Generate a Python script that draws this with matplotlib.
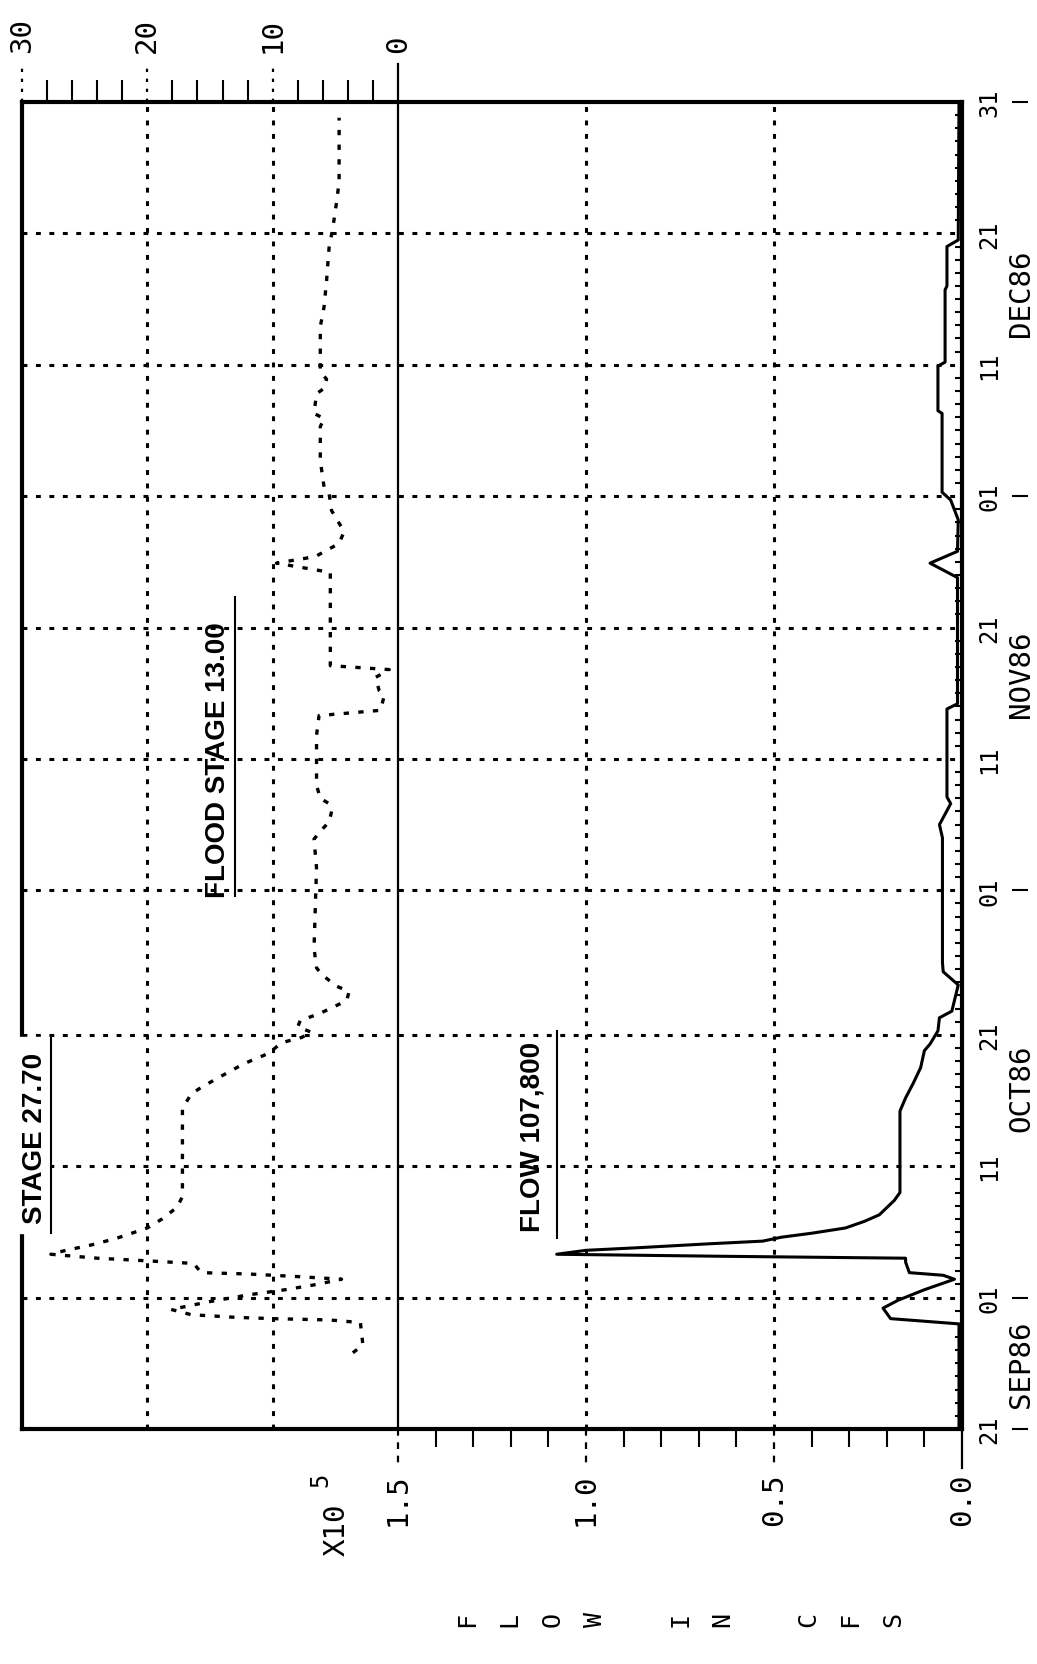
import matplotlib.pyplot as plt
from matplotlib.patches import Rectangle

# days counted from 21 SEP 86 (day 0) to 31 DEC 86 (day 101)
flow_day = [0, 8.0, 8.4, 9.2, 9.8, 10.6, 11.4, 11.7, 11.9, 12.7, 13.0, 13.15, 13.3,
            13.6, 13.8, 14.1, 14.3, 14.6, 14.9, 15.3, 15.8, 16.3, 17.4, 18.0, 24.2,
            25.2, 26.3, 27.5, 28.8, 29.3, 30.3, 31.3, 31.8, 33.8, 34.8, 35.5, 45.0,
            46.0, 47.6, 48.1, 54.8, 55.2, 64.8, 65.9, 66.8, 69.2, 70.7, 71.3, 77.3,
            77.5, 80.9, 81.2, 86.7, 87.0, 90.0, 90.5, 101]
# flow in 1e5 cfs
flow_val = [0.008, 0.008, 0.19, 0.21, 0.17, 0.10, 0.02, 0.05, 0.14, 0.15, 0.15, 0.65, 1.078,
            1.0, 0.86, 0.67, 0.53, 0.48, 0.40, 0.31, 0.26, 0.22, 0.18, 0.165, 0.165,
            0.15, 0.13, 0.11, 0.10, 0.085, 0.064, 0.06, 0.027, 0.01, 0.05, 0.052, 0.052,
            0.06, 0.03, 0.04, 0.04, 0.012, 0.012, 0.085, 0.012, 0.01, 0.03, 0.053, 0.053,
            0.064, 0.064, 0.045, 0.045, 0.04, 0.04, 0.01, 0.008]

stage_day = [5.8, 6.4, 8.1, 8.3, 8.4, 8.5, 8.7, 9.1, 9.7, 10.2, 10.6, 11.0, 11.4, 11.6,
             11.8, 11.9, 12.6, 12.8, 13.0, 13.3, 13.6, 14.0, 14.5, 15.3, 16.0, 16.9,
             17.7, 24.4, 25.5, 26.0, 26.7, 27.8, 28.6, 29.4, 29.8, 30.2, 30.6, 31.1,
             31.6, 32.6, 33.3, 33.7, 34.6, 35.1, 36.6, 42.7, 44.9, 45.6, 46.2, 47.0,
             47.6, 48.0, 49.0, 52.8, 54.3, 54.7, 55.8, 56.2, 57.2, 57.8, 58.1, 65.2,
             65.9, 66.4, 67.4, 68.3, 69.9, 71.2, 71.7, 73.7, 76.3, 76.9, 77.3, 78.8,
             79.2, 79.9, 80.5, 83.9, 85.4, 87.4, 89.9, 91.4, 93.4, 94.9, 99.8]
# stage in feet
stage_val = [3.6, 2.8, 3.0, 5.5, 10, 13, 16.5, 18.1, 15, 12, 9, 6.5, 4.5, 8,
             12, 15.7, 16.3, 20, 24, 27.7, 26.5, 24.5, 22.5, 20.0, 18.8, 17.6,
             17.2, 17.2, 16.5, 15.7, 14.4, 12.3, 10.3, 9.3, 7.7, 6.9, 8.0, 7.8,
             6.3, 4.1, 3.9, 4.9, 6.1, 6.5, 6.7, 6.5, 6.7, 6.1, 5.5, 5.3,
             5.5, 6.2, 6.5, 6.5, 6.3, 1.4, 1.1, 1.5, 1.8, 0.7, 5.4, 5.4,
             9.7, 6.6, 4.7, 4.3, 5.3, 5.5, 5.9, 6.2, 6.2, 5.9, 6.7, 6.5,
             5.9, 5.7, 6.2, 6.2, 5.9, 5.7, 5.5, 5.2, 4.9, 4.7, 4.7]

peak_flow = 1.078
peak_stage = 27.70
flood_stage = 13.00

day_ticks = [0, 10, 20, 30, 41, 51, 61, 71, 81, 91, 101]
day_labels = ["21", "01", "11", "21", "01", "11", "21", "01", "11", "21", "31"]
month_names = ["SEP86", "OCT86", "NOV86", "DEC86"]
month_mid = [5, 26, 57.5, 86.5]
month_edges = [0, 10, 41, 71, 101]
flow_ticks = [0.0, 0.5, 1.0, 1.5]
flow_labels = ["0.0", "0.5", "1.0", "1.5"]
stage_ticks = [0, 10, 20, 30]
stage_labels = ["0", "10", "20", "30"]

W, H = 1037, 1665
DOT = (0, (1.6, 2.8))
MONO = "DejaVu Sans Mono"

fig = plt.figure(figsize=(W / 100, H / 100), dpi=100)
ax = fig.add_axes([22 / W, 235 / H, 940 / W, 1327 / H])
ax.set_xlim(2.5, 0)
ax.set_ylim(0, 101)
# stage scale sits on top of the flow scale: stage 0 at flow 1.5, stage 30 at flow 2.5
ax2 = ax.twiny()
ax2.set_xlim(30, -45)
for s in ax2.spines.values():
    s.set_visible(False)
for s in ax.spines.values():
    s.set_linewidth(3)

day_px = 1327 / 101  # pixels per day

# grid
for d in day_ticks[1:-1]:
    ax.axhline(d, color="k", lw=2.2, ls=DOT, zorder=1)
for f in flow_ticks[1:3]:
    ax.axvline(f, color="k", lw=2.2, ls=DOT, zorder=1)
for s in stage_ticks[1:3]:
    ax2.axvline(s, color="k", lw=2.2, ls=DOT, zorder=1)
ax2.axvline(0, color="k", lw=1.6, zorder=1)

# data
ax.plot(flow_val, flow_day, color="k", lw=2.2, zorder=3)
ax2.plot(stage_val, stage_day, color="k", lw=2.4, ls=DOT, zorder=3)

# flow axis (bottom)
ax.set_xticks(flow_ticks, flow_labels, rotation=90, fontfamily=MONO, fontsize=21)
ax.set_xticks([i / 10 for i in range(1, 15) if i % 5], minor=True)
ax.tick_params(axis="x", which="major", length=0, pad=31)
ax.tick_params(axis="x", which="minor", direction="out", length=13, width=1.5)
for f in flow_ticks:
    ax.plot([f, f], [0, -39 / day_px], color="k", lw=1.6,
            ls="-" if f == 0 else (0, (3, 3)), clip_on=False)

# stage axis (top)
ax2.set_xticks(stage_ticks, stage_labels, rotation=90, fontfamily=MONO, fontsize=21)
ax2.set_xticks([s for s in range(2, 30, 2) if s % 10], minor=True)
ax2.tick_params(axis="x", which="major", length=0, pad=36)
ax2.tick_params(axis="x", which="minor", direction="out", length=16, width=1.5)
for s in stage_ticks:
    ax2.plot([s, s], [101, 101 + 38 / day_px], color="k", lw=1.6,
             ls="-" if s == 0 else (0, (1.5, 3)), clip_on=False)

# date axis (right)
ax.yaxis.tick_right()
ax.set_yticks(day_ticks, day_labels, rotation=90, fontfamily=MONO, fontsize=17, va="center")
ax.set_yticks(range(1, 101), minor=True)
ax.tick_params(axis="y", which="major", length=0, pad=11)
ax.tick_params(axis="y", which="minor", direction="in", length=5, width=1.5)
for name, d in zip(month_names, month_mid):
    ax.text(-0.157, d, name, rotation=90, ha="center", va="center",
            fontfamily=MONO, fontsize=21)
for d in month_edges:
    ax.plot([-0.136, -0.173], [d, d], color="k", lw=1.5, clip_on=False)

# peak and flood annotations
ax2.add_patch(Rectangle((27.85, 14.9), 3.5, 14.9, color="white", zorder=5, clip_on=False))
ax2.plot([peak_stage, peak_stage], [14.9, 29.8], color="k", lw=1.5, zorder=6, clip_on=False)
ax2.text(29.0, 22.2, f"STAGE {peak_stage:.2f}", rotation=90, ha="center", va="center",
         fontfamily="Liberation Sans", fontweight="bold", fontsize=20, zorder=7)
ax.plot([peak_flow, peak_flow], [14.5, 30.3], color="k", lw=1.5, zorder=4)
ax.text(1.141, 22.3, f"FLOW {peak_flow * 1e5:,.0f}", rotation=90, ha="center", va="center",
        fontfamily="Liberation Sans", fontweight="bold", fontsize=20, zorder=7)
ax2.plot([flood_stage, flood_stage], [40.6, 63.3], color="k", lw=1.5, zorder=4)
ax2.text(14.35, 51, f"FLOOD STAGE {flood_stage:.2f}", rotation=90, ha="center", va="center",
         fontfamily="Liberation Sans", fontweight="bold", fontsize=20, zorder=7)

# multiplier and axis title
fig.text(337 / W, 1 - 1530 / H, "X10", rotation=90, ha="center", va="center",
         fontfamily=MONO, fontsize=21)
fig.text(320 / W, 1 - 1480 / H, "5", rotation=90, ha="center", va="center",
         fontfamily=MONO, fontsize=17)
for i, ch in enumerate("FLOW IN CFS"):
    if ch != " ":
        fig.text((467 + i * 42.6) / W, 1 - 1620 / H, ch, rotation=90, ha="center",
                 va="center", fontfamily=MONO, fontsize=18)

fig.savefig("out.png", dpi=100, facecolor="white")
